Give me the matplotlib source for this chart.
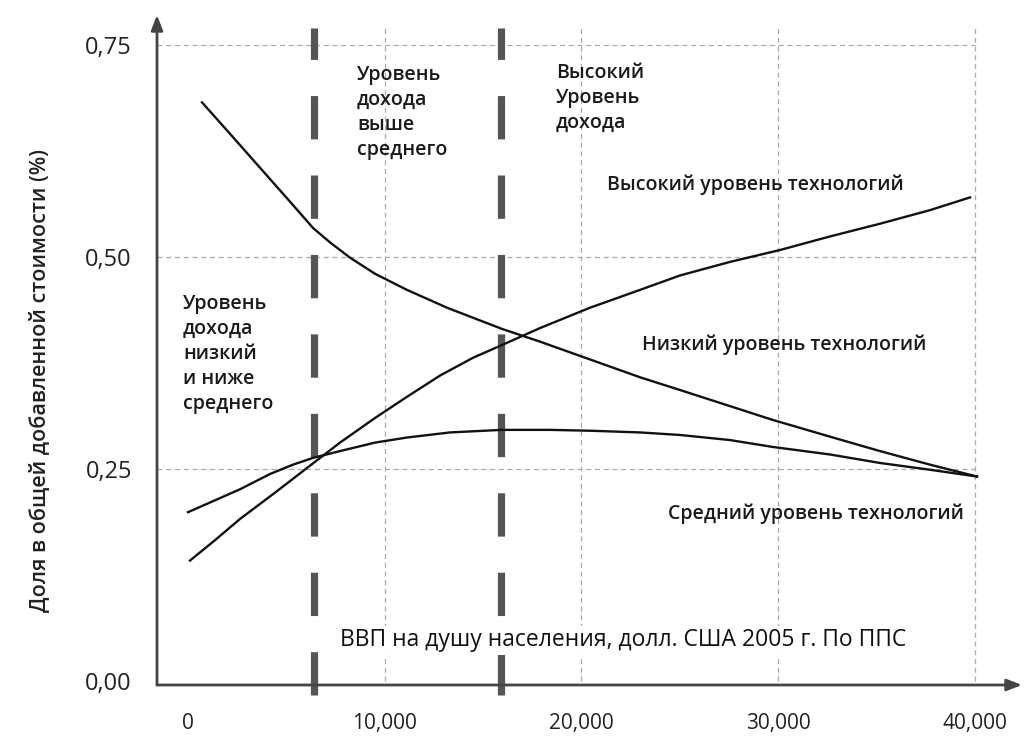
import matplotlib
matplotlib.use("Agg")
import matplotlib.pyplot as plt

plt.rcParams['font.family'] = ['Open Sans', 'Noto Sans', 'DejaVu Sans']

# ---- data (GDP per capita, share of value added) ----
low_x = [712, 2135, 3660, 5186, 6355, 7219, 8236, 9507, 11134, 13168, 14845, 15964, 17896,
         20438, 22980, 25013, 27555, 29691, 32639, 35181, 37723, 40113]
low_y = [0.682, 0.645, 0.605, 0.565, 0.534, 0.517, 0.499, 0.480, 0.461, 0.440, 0.425, 0.415,
         0.400, 0.379, 0.358, 0.343, 0.324, 0.308, 0.288, 0.271, 0.255, 0.241]

high_x = [102, 1373, 2644, 4423, 6101, 7728, 9507, 11134, 12812, 14489, 15964, 17896, 20438,
          22980, 25013, 27555, 30097, 32639, 35181, 37723, 39757]
high_y = [0.142, 0.166, 0.191, 0.222, 0.252, 0.281, 0.310, 0.335, 0.360, 0.381, 0.396, 0.416,
          0.440, 0.461, 0.478, 0.494, 0.508, 0.524, 0.539, 0.555, 0.570]

mid_x = [0, 1373, 2644, 4169, 5338, 6355, 7728, 9507, 11134, 13320, 15964, 18404, 20438,
         22980, 25013, 27555, 29691, 32639, 35181, 37723, 40113]
mid_y = [0.199, 0.213, 0.226, 0.244, 0.255, 0.263, 0.271, 0.281, 0.287, 0.293, 0.296, 0.296,
         0.295, 0.293, 0.290, 0.284, 0.276, 0.267, 0.257, 0.249, 0.241]

thresholds = [6400, 15900]
x_ticks = [0, 10000, 20000, 30000, 40000]
x_tick_labels = ['0', '10,000', '20,000', '30,000', '40,000']
y_ticks = [0.0, 0.25, 0.50, 0.75]
y_tick_labels = ['0,00', '0,25', '0,50', '0,75']

W, H = 1030, 739
fig = plt.figure(figsize=(W / 100, H / 100), dpi=100)
ax = fig.add_axes([157 / W, 1 - 685 / H, (1022 - 157) / W, (685 - 15) / H])
ax.set_xlim(-1576, 42400)
ax.set_ylim(-0.0047, 0.785)
for s in ax.spines.values():
    s.set_visible(False)

grid_kw = dict(color='#aaaaaa', lw=0.9, ls=(0, (4, 3)), zorder=1)
for yv in y_ticks[1:]:
    ax.plot([-1576, 40000], [yv, yv], **grid_kw)
for xv in x_ticks[1:]:
    ax.plot([xv, xv], [0, 0.771], **grid_kw)

# thick dashed income thresholds
for xv in thresholds:
    ax.plot([xv, xv], [-0.017, 0.770], color='#555555', lw=5.2,
            ls=(0, (6.0, 5.0)), zorder=2, clip_on=False, dash_capstyle='butt')

line_kw = dict(color='#111111', lw=1.7, zorder=3, solid_joinstyle='round')
ax.plot(low_x, low_y, **line_kw)
ax.plot(high_x, high_y, **line_kw)
ax.plot(mid_x, mid_y, **line_kw)

# axes with arrows
arrow = dict(arrowstyle='-|>,head_length=0.9,head_width=0.35', lw=2, color='#444444',
             shrinkA=0, shrinkB=0)
ax.annotate('', xy=(0, 1), xytext=(0, 0), xycoords='axes fraction', arrowprops=arrow)
ax.annotate('', xy=(1, 0), xytext=(0, 0), xycoords='axes fraction', arrowprops=arrow)

ax.set_xticks(x_ticks)
ax.set_xticklabels(x_tick_labels)
ax.set_yticks(y_ticks)
ax.set_yticklabels(y_tick_labels)
ax.tick_params(length=0, colors='#222222')
ax.tick_params(axis='x', pad=20, labelsize=15)
ax.tick_params(axis='y', pad=18, labelsize=17)

txt = dict(color='#1a1a1a', fontsize=14, zorder=5, fontweight='semibold')
ax.text(-254, 0.456, 'Уровень\nдохода\nнизкий\nи ниже\nсреднего', va='top', ha='left',
        linespacing=1.33, **txt)
ax.text(8592, 0.726, 'Уровень\nдохода\nвыше\nсреднего', va='top', ha='left',
        linespacing=1.33, **txt)
ax.text(18709, 0.728, 'Высокий\nУровень\nдохода', va='top', ha='left',
        linespacing=1.33, **txt)
ax.text(21302, 0.585, 'Высокий уровень технологий', va='center', ha='left', **txt)
ax.text(23081, 0.396, 'Низкий уровень технологий', va='center', ha='left', **txt)
ax.text(24403, 0.197, 'Средний уровень технологий', va='center', ha='left', **txt)
ax.text(7727, 0.048, 'ВВП на душу населения, долл. США 2005 г. По ППС', va='center',
        ha='left', color='#111111', fontsize=16.5, zorder=5,
        bbox=dict(facecolor='white', edgecolor='none', pad=2))

fig.text(40 / W, 1 - 380 / H, 'Доля в общей добавленной стоимости (%)', rotation=90,
         ha='center', va='center', fontsize=15.5, color='#222222', fontweight='semibold')

fig.savefig('out.png', dpi=100, facecolor='white')
